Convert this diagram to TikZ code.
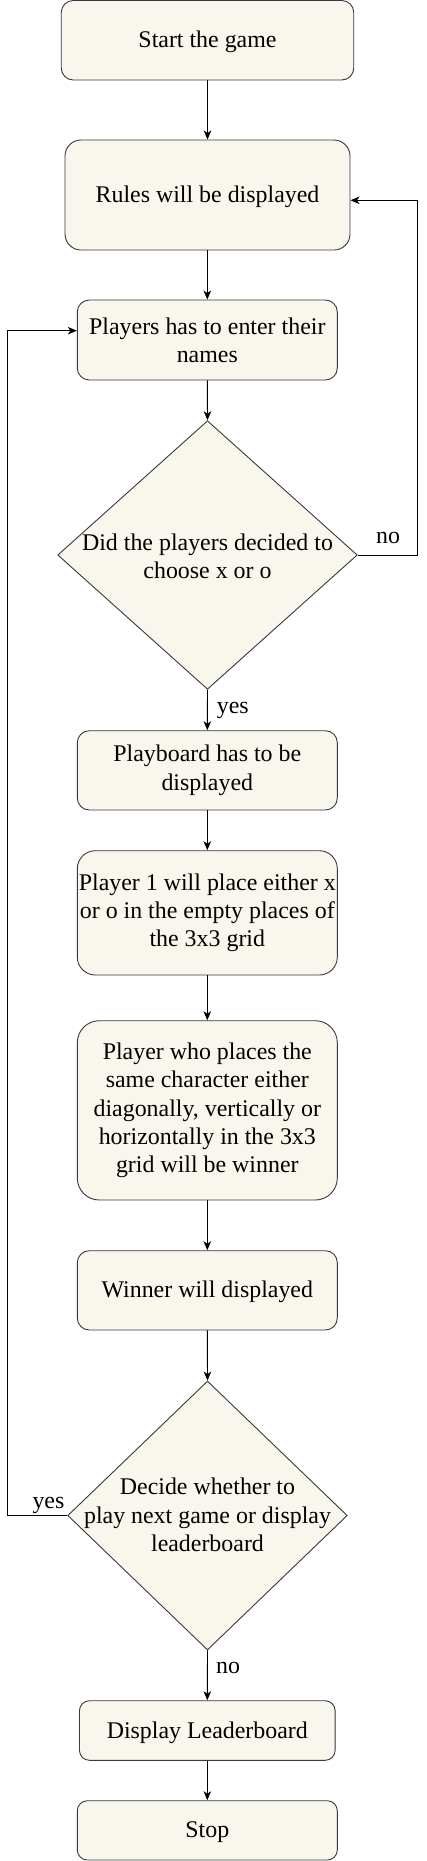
\documentclass[tikz,border=0pt]{standalone}
\usepackage{fontspec}
\setmainfont{Liberation Serif}
\usetikzlibrary{shapes.geometric,arrows.meta}
\definecolor{boxfill}{HTML}{F9F7ED}
\definecolor{boxline}{HTML}{36393D}
\begin{document}
\begin{tikzpicture}[x=1pt,y=-1pt,
  every node/.style={font=\fontsize{23.9}{28.3}\selectfont},
  procbox/.style={draw=boxline,fill=boxfill,line width=0.9pt,rectangle,inner sep=0pt,align=center},
  oneline/.style={text height=18pt,text depth=3pt},
  decision/.style={draw=boxline,fill=boxfill,line width=0.9pt,diamond,inner sep=0pt,aspect=1},
  txt/.style={align=center,inner sep=0pt},
  lbl/.style={inner sep=0pt,anchor=base west},
  conn/.style={draw=black,line width=0.9pt,-{Stealth[length=9pt,width=7.5pt,inset=2.5pt]}}]
\useasboundingbox (0,0) rectangle (427,1861);

\node[procbox,oneline,rounded corners=12pt,minimum width=292.5pt,minimum height=79.5pt] (start) at (207.5,40.25) {Start the game};
\node[procbox,oneline,rounded corners=16pt,minimum width=285pt,minimum height=110pt] (rules) at (207.5,195) {Rules will be displayed};
\node[procbox,rounded corners=12pt,minimum width=260pt,minimum height=80pt] (players) at (207.3,340) {Players has to enter their\\names};
\node[decision,minimum width=299.6pt,minimum height=268.6pt] (d1) at (207.5,555) {};
\node[txt] (d1t) at (207.5,556.5) {Did the players decided to\\choose x or o};
\node[procbox,rounded corners=12pt,minimum width=260pt,minimum height=79.3pt] (play) at (207.3,770.35) {Playboard has to be\\displayed};
\node[procbox,rounded corners=18pt,minimum width=260pt,minimum height=124.3pt] (p1) at (207.3,912.85) {Player 1 will place either x\\or o in the empty places of\\the 3x3 grid};
\node[procbox,rounded corners=22pt,minimum width=260pt,minimum height=179.3pt] (who) at (207.3,1110.35) {Player who places the\\same character either\\diagonally, vertically or\\horizontally in the 3x3\\grid will be winner};
\node[procbox,oneline,rounded corners=12pt,minimum width=260pt,minimum height=79.3pt] (win) at (207.3,1290.35) {Winner will displayed};
\node[decision,minimum width=279.6pt,minimum height=269pt] (d2) at (207.5,1515.5) {};
\node[txt] (d2t) at (207.5,1515) {Decide whether to\\play next game or display\\leaderboard};
\node[procbox,oneline,rounded corners=10pt,minimum width=255.7pt,minimum height=59.6pt] (lead) at (207.3,1730.5) {Display Leaderboard};
\node[procbox,oneline,rounded corners=10pt,minimum width=260pt,minimum height=59.3pt] (stop) at (207.3,1830.35) {Stop};

\coordinate (rtop) at (417.3,200.3);
\coordinate (rbot) at (417.3,555);
\coordinate (ltop) at (7.3,330.7);
\coordinate (lbot) at (7.3,1515.5);

\draw[conn] (start.south) -- (start.south |- rules.north);
\draw[conn] (rules.south) -- (rules.south -| players.north) -- (players.north);
\draw[conn] (players.south) -- (d1.north);
\draw[conn] (d1.east) -- (rbot) -- (rtop) -- (rules.east |- rtop);
\draw[conn] (d1.south) -- (play.north);
\draw[conn] (play.south) -- (p1.north);
\draw[conn] (p1.south) -- (who.north);
\draw[conn] (who.south) -- (win.north);
\draw[conn] (win.south) -- (d2.north);
\draw[conn] (d2.west) -- (lbot) -- (ltop) -- (players.west |- ltop);
\draw[conn] (d2.south) -- (lead.north);
\draw[conn] (lead.south) -- (stop.north);

\node[lbl] (no1) at (376,543.3) {no};
\node[lbl] (yes1) at (216.7,713.3) {yes};
\node[lbl] (yes2) at (32.3,1508.3) {yes};
\node[lbl] (no2) at (216,1673.3) {no};
\end{tikzpicture}
\end{document}
